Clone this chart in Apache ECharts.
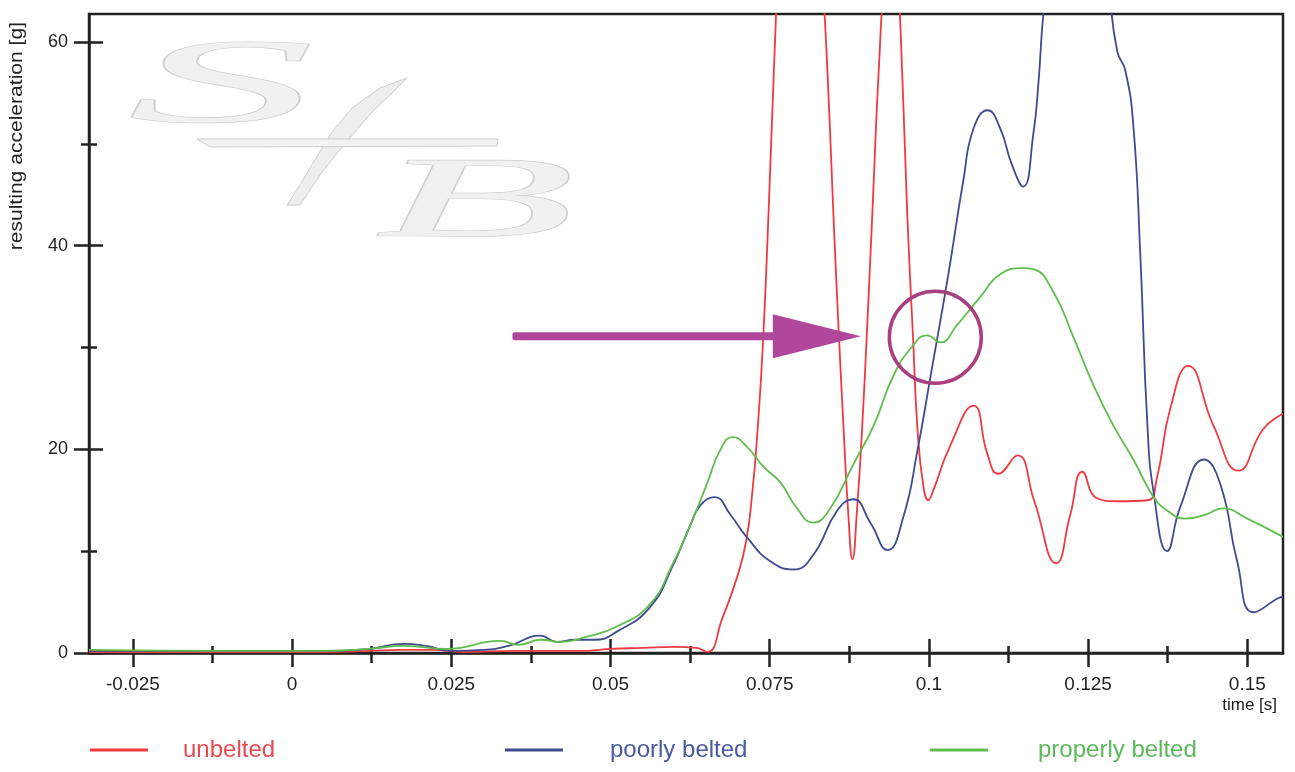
<!DOCTYPE html>
<html>
<head>
<meta charset="utf-8">
<style>
  html, body { margin: 0; padding: 0; background: #fff; }
  #chart { width: 1295px; height: 772px; }
</style>
<script src="https://cdn.jsdelivr.net/npm/echarts@6/dist/echarts.min.js"></script>
</head>
<body>
<div id="chart"></div>
<script>
// [time s, resulting acceleration g]
const unbelted = [
  [-0.0319, 0.1], [-0.01, 0.1], [0.005, 0.1], [0.012, 0.2], [0.017, 0.3], [0.022, 0.3],
  [0.027, 0.1], [0.035, 0.2], [0.045, 0.2], [0.05, 0.4], [0.055, 0.5], [0.06, 0.6],
  [0.0635, 0.5], [0.0652, 0.1], [0.0676, 3.5], [0.0699, 7.5], [0.0713, 11], [0.0723, 16],
  [0.0731, 22], [0.0739, 30], [0.0748, 43], [0.0757, 58], [0.0768, 74], [0.0783, 88],
  [0.0798, 93], [0.0813, 87], [0.0827, 73], [0.084, 58], [0.085, 43], [0.0858, 32],
  [0.0866, 22], [0.0873, 14], [0.088, 9.2], [0.0887, 14], [0.0895, 22], [0.0903, 32],
  [0.0911, 43], [0.0921, 57], [0.0932, 68], [0.0941, 71], [0.095, 67], [0.0958, 57],
  [0.0966, 43], [0.0975, 31], [0.0982, 22], [0.0991, 16.5], [0.0999, 15], [0.1007, 16],
  [0.1033, 20.3], [0.107, 24.3], [0.1092, 19.5], [0.1109, 17.6], [0.1139, 19.4],
  [0.1165, 15], [0.12, 8.8], [0.1222, 13.6], [0.1241, 17.8], [0.1264, 15.2], [0.1296, 14.9],
  [0.1343, 15], [0.1358, 17.2], [0.1379, 24], [0.1407, 28.2], [0.1447, 22.3], [0.1486, 17.9],
  [0.1525, 22], [0.1556, 23.5]
];
const poorlyBelted = [
  [-0.0319, 0.2], [-0.01, 0.2], [0.005, 0.2], [0.012, 0.4], [0.0175, 0.9], [0.021, 0.7],
  [0.025, 0.2], [0.03, 0.3], [0.034, 0.7], [0.039, 1.7], [0.0415, 1.1], [0.0445, 1.3],
  [0.0475, 1.3], [0.051, 2.1], [0.0562, 4.5], [0.0598, 8.6], [0.0625, 12.5], [0.0641, 14.5],
  [0.0664, 15.3], [0.0688, 13.6], [0.0715, 11.3], [0.0751, 9.0], [0.0787, 8.2], [0.0818, 9.6],
  [0.0856, 14], [0.0881, 15.1], [0.0908, 12.8], [0.0935, 10.1], [0.096, 13.4], [0.0982, 19.9],
  [0.1002, 27], [0.103, 37], [0.1054, 46.4], [0.107, 51.5], [0.1092, 53.3], [0.1112, 51.5],
  [0.113, 48], [0.1148, 45.8], [0.1164, 51], [0.1172, 56], [0.118, 63], [0.12, 74],
  [0.1235, 82], [0.1265, 75], [0.1283, 65], [0.1296, 59], [0.1308, 57.3], [0.1321, 51.8],
  [0.1332, 39], [0.1343, 22.5], [0.1353, 15.7], [0.1374, 10], [0.1395, 14.4], [0.1432, 19],
  [0.1458, 16.5], [0.1484, 9], [0.151, 4], [0.1549, 5.4], [0.1556, 5.5]
];
const properlyBelted = [
  [-0.0319, 0.3], [-0.01, 0.2], [0.005, 0.2], [0.012, 0.4], [0.0175, 0.7], [0.0243, 0.4],
  [0.0327, 1.2], [0.0355, 0.8], [0.039, 1.3], [0.0422, 1.1], [0.0463, 1.6], [0.051, 2.6],
  [0.0562, 4.8], [0.0598, 8.8], [0.0625, 12.5], [0.0652, 16.7], [0.0672, 19.9], [0.0692, 21.2],
  [0.0715, 20.2], [0.074, 18.3], [0.0766, 16.8], [0.0793, 14.2], [0.0818, 12.8], [0.0845, 14.2],
  [0.0881, 18.5], [0.0913, 22.3], [0.0944, 27.2], [0.0975, 30.2], [0.0997, 31.2], [0.1018, 30.5],
  [0.1044, 32.2], [0.1081, 35], [0.1112, 37.2], [0.1148, 37.8], [0.1164, 37.7], [0.1195, 35.5],
  [0.1227, 31], [0.1259, 26.2], [0.129, 22.3], [0.1321, 19], [0.1351, 15.5], [0.1374, 14],
  [0.1403, 13.2], [0.1435, 13.6], [0.1461, 14.2], [0.15, 13.2], [0.1556, 11.4]
];

const xMajor = [-0.025, 0, 0.025, 0.05, 0.075, 0.1, 0.125, 0.15];
const xMinor = [-0.0125, 0.0125, 0.0375, 0.0625, 0.0875, 0.1125, 0.1375];
const yMajor = [0, 20, 40, 60];
const yMinor = [10, 30, 50];
// the annotation: arrow from / to and the ring round the dip, in data units
const arrowFrom = [0.0346, 31.1];
const arrowTo = [0.0893, 31.1];
const ringAt = [0.101, 31.0];

const X_MIN = -0.0319, X_MAX = 0.1556, Y_MAX = 62.75;
const ink = '#222';
const font = 'Liberation Sans, Arial, sans-serif';

function xAxisDef(values, inside, len, showMain) {
  return {
    type: 'value', min: X_MIN, max: X_MAX, position: 'bottom',
    axisLine: { show: showMain, onZero: false, lineStyle: { color: ink, width: 2.5 } },
    axisTick: { show: true, inside: inside, length: len, customValues: values,
      lineStyle: { color: ink, width: 2.5 } },
    axisLabel: showMain ? {
      customValues: xMajor, margin: 22, color: ink, fontSize: 19, fontFamily: font,
      formatter: v => String(+v.toFixed(4))
    } : { show: false },
    splitLine: { show: false }
  };
}
function yAxisDef(values, inside, len, showMain) {
  return {
    type: 'value', min: 0, max: Y_MAX, position: 'left',
    axisLine: { show: showMain, onZero: false, lineStyle: { color: ink, width: 2.5 } },
    axisTick: { show: true, inside: inside, length: len, customValues: values,
      lineStyle: { color: ink, width: 2.5 } },
    axisLabel: showMain ? {
      customValues: yMajor, margin: 21, color: ink, fontSize: 18, fontFamily: font
    } : { show: false },
    splitLine: { show: false }
  };
}

function legendDef(name, left, gap, color) {
  return {
    data: [name], left: left, top: 733, icon: 'rect', itemWidth: 58, itemHeight: 3,
    selectedMode: false,
    textStyle: { color: color, fontSize: 24, fontFamily: font, padding: [0, 0, 0, gap] }
  };
}

let myChart = echarts.init(document.getElementById('chart'));
let option = {
  animation: false,
  backgroundColor: '#fff',
  grid: { left: 89, right: 12, top: 14, bottom: 119, show: true, borderColor: ink, borderWidth: 2.5 },
  xAxis: [
    xAxisDef(xMajor, false, 14, true),
    xAxisDef(xMajor, true, 14, false),
    xAxisDef(xMinor, false, 10, false),
    xAxisDef(xMinor, true, 7, false)
  ],
  yAxis: [
    yAxisDef(yMajor, false, 15, true),
    yAxisDef(yMajor, true, 14, false),
    yAxisDef(yMinor, false, 8, false),
    yAxisDef(yMinor, true, 8, false)
  ],
  legend: [
    legendDef('unbelted', 85, 30, '#e84a52'),
    legendDef('poorly belted', 500, 42, '#4a5a9e'),
    legendDef('properly belted', 925, 45, '#5cb85a')
  ],
  series: [
    { name: 'unbelted', type: 'line', data: unbelted, color: '#ee3a40' },
    { name: 'poorly belted', type: 'line', data: poorlyBelted, color: '#3e4b8e' },
    { name: 'properly belted', type: 'line', data: properlyBelted, color: '#5fbd4c' }
  ].map(s => Object.assign(s, {
    showSymbol: false, smooth: 0.5, clip: true,
    lineStyle: { width: 1.8 }, z: 3
  }))
};
myChart.setOption(option);

// watermark logo, axis names and the arrow/ring annotation
const from = myChart.convertToPixel({ seriesIndex: 0 }, arrowFrom);
const to = myChart.convertToPixel({ seriesIndex: 0 }, arrowTo);
const ring = myChart.convertToPixel({ seriesIndex: 0 }, ringAt);
const headLen = 88, headHalf = 22, shaft = 8;
const purple = '#b0479a';
const logoFill = '#f1f1f1', logoEdge = '#cdcdcd';

myChart.setOption({
  graphic: [
    { type: 'text', x: 128, y: 30, scaleX: 3.1, z: 0, silent: true,
      style: { text: 'S', font: 'italic 120px "Liberation Serif", serif', fill: logoFill,
        stroke: logoEdge, lineWidth: 1.2 } },
    { type: 'polygon', z: 0, silent: true,
      shape: { points: [[407, 78], [380, 88], [352, 108], [332, 132], [316, 158], [300, 185],
        [287, 205], [300, 205], [322, 172], [348, 140], [372, 112], [395, 90]] },
      style: { fill: '#eeeeee', stroke: logoEdge, lineWidth: 1 } },
    { type: 'polygon', z: 0, silent: true,
      shape: { points: [[197, 139], [498, 139], [497, 146], [210, 147]] },
      style: { fill: '#f3f3f3', stroke: logoEdge, lineWidth: 1 } },
    { type: 'text', x: 375, y: 148, scaleX: 2.85, z: 0, silent: true,
      style: { text: 'B', font: 'italic 115px "Liberation Serif", serif', fill: logoFill,
        stroke: logoEdge, lineWidth: 1.2 } },
    { type: 'text', x: 17, y: 22, rotation: Math.PI / 2, scaleX: 1.17, silent: true,
      style: { text: 'resulting acceleration [g]', font: '18px ' + font, fill: ink,
        textAlign: 'right', textVerticalAlign: 'middle' } },
    { type: 'text', right: 18, top: 697, silent: true,
      style: { text: 'time [s]', font: '17px ' + font, fill: ink } },
    { type: 'rect', z: 10, silent: true,
      shape: { x: from[0], y: from[1] - shaft / 2, width: to[0] - headLen - from[0] + 2, height: shaft, r: 2 },
      style: { fill: purple } },
    { type: 'polygon', z: 10, silent: true,
      shape: { points: [[to[0] - headLen, to[1] - headHalf], [to[0], to[1]], [to[0] - headLen, to[1] + headHalf]] },
      style: { fill: purple } },
    { type: 'circle', z: 10, silent: true,
      shape: { cx: ring[0], cy: ring[1], r: 46 },
      style: { fill: 'none', stroke: '#a8407f', lineWidth: 3.5 } }
  ]
});
</script>
</body>
</html>
